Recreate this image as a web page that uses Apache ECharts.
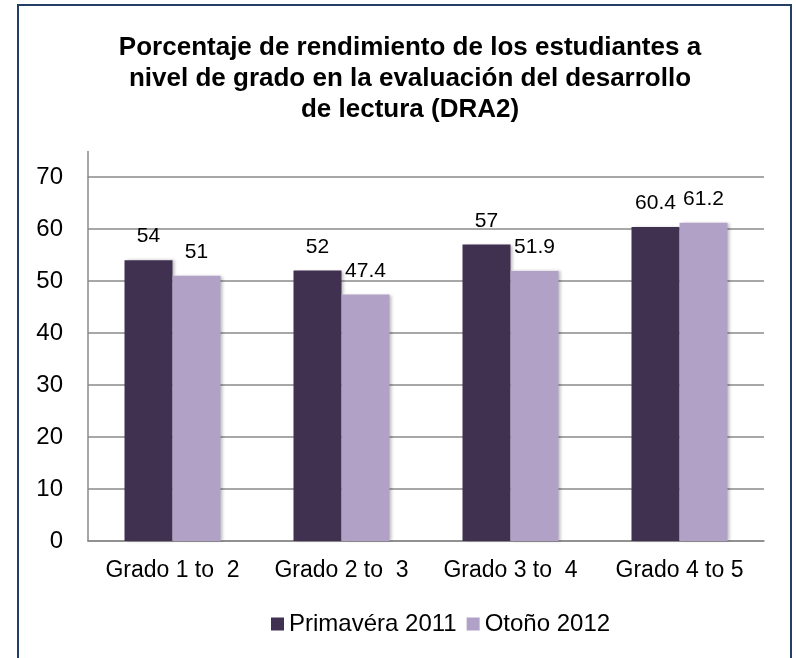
<!DOCTYPE html>
<html>
<head>
<meta charset="utf-8">
<script src="https://cdn.jsdelivr.net/npm/echarts@6/dist/echarts.min.js"></script>
<style>
  html, body { margin: 0; padding: 0; background: #fff; }
  #frame {
    position: absolute; left: 17px; top: 4px; width: 775px; height: 720px;
    border: 2.5px solid #243f66; box-sizing: border-box;
  }
  #chart { position: absolute; left: 0; top: 0; width: 796px; height: 658px; }
</style>
</head>
<body>
<div id="frame"></div>
<div id="chart"></div>
<script>
  // datos
  var grados = ['Grado 1 to  2', 'Grado 2 to  3', 'Grado 3 to  4', 'Grado 4 to 5'];
  var primavera2011 = [54, 52, 57, 60.4];
  var otono2012 = [51, 47.4, 51.9, 61.2];
  var yTicks = [0, 10, 20, 30, 40, 50, 60, 70];

  var fuente = 'Liberation Sans, Arial, sans-serif';
  var gris = '#8a8a8a';

  var chart = echarts.init(document.getElementById('chart'));
  var option = {
    animation: false,
    title: {
      text: 'Porcentaje de rendimiento de los estudiantes a\nnivel de grado en la evaluación del desarrollo\nde lectura (DRA2)',
      left: 405,
      textAlign: 'center',
      top: 27,
      textStyle: { fontFamily: fuente, fontSize: 26, fontWeight: 'bold', color: '#000', lineHeight: 31 }
    },
    legend: {
      left: 266,
      top: 607,
      itemWidth: 13,
      itemHeight: 13,
      itemGap: 10,
      icon: 'rect',
      textStyle: { fontFamily: fuente, fontSize: 24, color: '#000' },
      data: ['Primavéra 2011', 'Otoño 2012']
    },
    grid: { left: 88, right: 32, top: 177, bottom: 117 },
    xAxis: {
      type: 'category',
      data: grados,
      axisLine: { lineStyle: { color: gris, width: 1.5 } },
      axisTick: { show: false },
      axisLabel: { interval: 0, fontFamily: fuente, fontSize: 23, color: '#000', margin: 18 }
    },
    yAxis: {
      type: 'value',
      min: yTicks[0],
      max: yTicks[yTicks.length - 1],
      interval: 10,
      axisLine: { show: true, lineStyle: { color: gris, width: 1.5 } },
      axisTick: { show: false },
      splitLine: { lineStyle: { color: gris, width: 1.5 } },
      axisLabel: { fontFamily: fuente, fontSize: 24, color: '#000', margin: 25 }
    },
    graphic: [{
      // la linea del eje sigue por encima del 70
      type: 'line',
      shape: { x1: 88, y1: 151, x2: 88, y2: 177 },
      style: { stroke: gris, lineWidth: 1.5 }
    }],
    series: [{
      name: 'Primavéra 2011',
      type: 'bar',
      data: primavera2011,
      barWidth: 48,
      barGap: '0%',
      itemStyle: { color: '#403151', shadowColor: 'rgba(0,0,0,0.25)', shadowBlur: 3, shadowOffsetX: 2 },
      label: { show: true, position: 'top', distance: 13, fontFamily: fuente, fontSize: 21, color: '#000' }
    }, {
      name: 'Otoño 2012',
      type: 'bar',
      data: otono2012,
      barWidth: 48,
      itemStyle: { color: '#b2a1c7', shadowColor: 'rgba(0,0,0,0.25)', shadowBlur: 3, shadowOffsetX: 2 },
      label: { show: true, position: 'top', distance: 13, fontFamily: fuente, fontSize: 21, color: '#000' }
    }]
  };
  chart.setOption(option);
</script>
</body>
</html>
